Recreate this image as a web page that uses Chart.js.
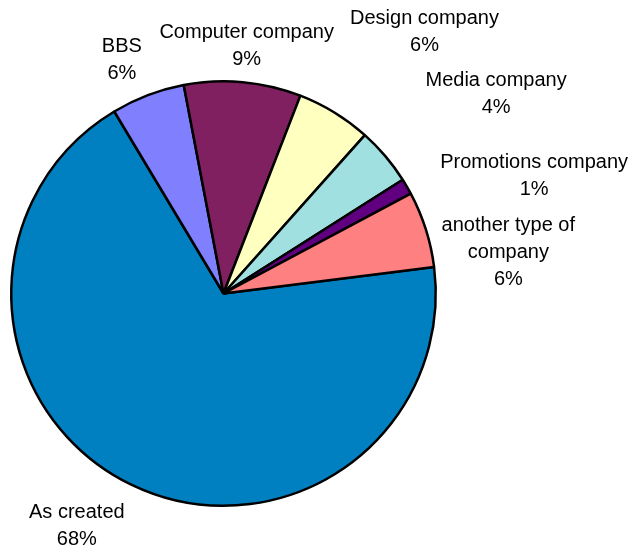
<!DOCTYPE html>
<html>
<head>
<meta charset="utf-8">
<script src="https://cdn.jsdelivr.net/npm/chart.js@4/dist/chart.umd.min.js"></script>
<style>
  html, body { margin: 0; padding: 0; background: #ffffff; }
  #wrap { width: 635px; height: 550px; }
</style>
</head>
<body>
<div id="wrap"><canvas id="pie" width="635" height="550"></canvas></div>
<script>
// Where the sites were made (share of respondents, %)
const categories = [
  'As created',
  'BBS',
  'Computer company',
  'Design company',
  'Media company',
  'Promotions company',
  ['another type of', 'company']
];
const shares = [68.4, 5.6, 8.9, 5.7, 4.4, 1.2, 5.8];
const sliceColors = ['#0080C0', '#8080FF', '#802060', '#FFFFC0', '#A0E0E0', '#600080', '#FF8080'];

// Label placement around the pie: angular shift from the slice middle (deg)
// and distance from the centre in units of the pie radius.
const labelShiftDeg = [6.5, -2.5, 0.1, 5.9, 3.9, 9.2, 9.1];
const labelDistance = [1.289, 1.207, 1.178, 1.559, 1.596, 1.568, 1.357];

const LINE_HEIGHT = 27;
const FONT = '20px "Liberation Sans", Arial, sans-serif';

const outsideLabels = {
  id: 'outsideLabels',
  afterDatasetsDraw(chart) {
    const ctx = chart.ctx;
    const meta = chart.getDatasetMeta(0);
    const values = chart.data.datasets[0].data;
    const total = values.reduce((a, b) => a + b, 0);
    ctx.save();
    ctx.font = FONT;
    ctx.fillStyle = '#000000';
    ctx.textAlign = 'center';
    ctx.textBaseline = 'alphabetic';
    meta.data.forEach((arc, i) => {
      const p = arc.getProps(['x', 'y', 'startAngle', 'endAngle', 'outerRadius'], true);
      const mid = (p.startAngle + p.endAngle) / 2 + labelShiftDeg[i] * Math.PI / 180;
      const dist = p.outerRadius * labelDistance[i];
      const cx = p.x + Math.cos(mid) * dist;
      const cy = p.y + Math.sin(mid) * dist;
      const name = chart.data.labels[i];
      const lines = (Array.isArray(name) ? name.slice() : [name]);
      lines.push(Math.round(values[i] / total * 100) + '%');
      const n = lines.length;
      lines.forEach((t, k) => {
        const y = cy + (k - (n - 1) / 2) * LINE_HEIGHT + 7;
        ctx.fillText(t, cx, y);
      });
    });
    ctx.restore();
  }
};

new Chart(document.getElementById('pie'), {
  type: 'pie',
  data: {
    labels: categories,
    datasets: [{
      data: shares,
      backgroundColor: sliceColors,
      borderColor: '#000000',
      borderWidth: 2.5
    }]
  },
  options: {
    responsive: false,
    animation: false,
    rotation: 82.8,
    layout: { padding: { left: 10, right: 198, top: 80, bottom: 43 } },
    plugins: {
      legend: { display: false },
      tooltip: { enabled: false }
    }
  },
  plugins: [outsideLabels]
});
</script>
</body>
</html>
